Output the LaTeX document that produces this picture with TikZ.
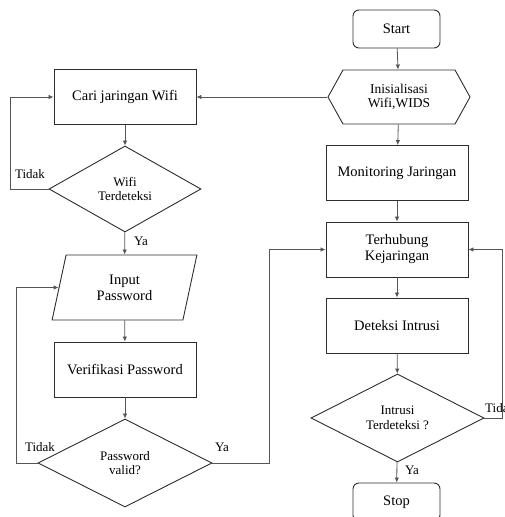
\documentclass[tikz,border=0pt]{standalone}
\usepackage{fontspec}
\setmainfont{Liberation Serif}
\usepackage{tikz}
\usetikzlibrary{shapes.geometric,shapes.symbols,arrows.meta}

\begin{document}
\begin{tikzpicture}[x=1pt, y=-1pt,
    box/.style={draw=shapeline, line width=0.9pt, minimum width=142, minimum height=55, align=center, inner sep=1pt, font=\fontsize{14.5}{16}\selectfont},
    term/.style={box, rounded corners=6pt, minimum width=87, minimum height=38},
    cond/.style={diamond, draw=shapeline, line width=0.9pt, align=center, inner sep=0pt, font=\fontsize{13}{14.5}\selectfont},
    io/.style={trapezium, trapezium left angle=76, trapezium right angle=104, trapezium stretches=true, draw=shapeline, line width=0.9pt, minimum width=145, minimum height=65, align=center, inner sep=1pt, font=\fontsize{14.5}{16}\selectfont},
    prep/.style={signal, signal to=east and west, signal pointer angle=122, draw=shapeline, line width=0.9pt, minimum width=142, minimum height=54, align=center, inner sep=1pt, font=\fontsize{13.5}{14.5}\selectfont},
    arr/.style={draw=connline, line width=0.8pt, -{Latex[length=5pt,width=4.5pt]}},
    lbl/.style={font=\fontsize{13}{14}\selectfont, inner sep=0pt}]
        % Define colors
        \definecolor{shapeline}{RGB}{45,45,45}
        \definecolor{connline}{RGB}{85,85,85}

        \useasboundingbox (0,0) rectangle (504,517);

        % Right column - main flow
        \node[term] (start) at (396.5,29) {Start};
        \node[prep] (init) at (399,97) {Inisialisasi\\Wifi,WIDS};
        \node[box] (monitor) at (397,173) {Monitoring Jaringan};
        \node[box] (terhub) at (397,249.5) {Terhubung\\Kejaringan};
        \node[box] (deteksi) at (397,325.5) {Deteksi Intrusi};
        \node[cond, minimum width=173, minimum height=88] (intrusi) at (397.5,418) {Intrusi\\Terdeteksi ?};
        \node[term] (stop) at (396.5,502) {Stop};

        % Left column - wifi connection
        \node[box] (cari) at (125,97) {Cari jaringan Wifi};
        \node[cond, minimum width=152, minimum height=86] (wifi) at (125,189) {Wifi\\Terdeteksi};
        \node[io] (input) at (124.5,287.5) {Input\\Password};
        \node[box] (verif) at (125,369.5) {Verifikasi Password};
        \node[cond, minimum width=174, minimum height=88] (valid) at (125,463) {Password\\valid?};

        % Arrows - right column
        \draw[arr] (start) -- (init);
        \draw[arr] (init) -- (monitor);
        \draw[arr] (monitor) -- (terhub);
        \draw[arr] (terhub) -- (deteksi);
        \draw[arr] (deteksi) -- (intrusi);
        \draw[arr] (intrusi) -- (stop);
        \draw[arr] (init.west) -- (cari.east);

        % Arrows - left column
        \draw[arr] (cari) -- (wifi);
        \draw[arr] (wifi) -- (input);
        \draw[arr] (input) -- (verif);
        \draw[arr] (verif) -- (valid);

        % Loops back
        \draw[arr] (wifi.west) -- ++(-38,0) |- (cari.west);
        \draw[arr] (valid.west) -- ++(-21,0) |- (input.west);
        \draw[arr] (valid.east) -- ++(57,0) |- (terhub.west);
        \draw[arr] (intrusi.east) -- ++(18,0) |- (terhub.east);

        % Labels
        \node[lbl] (tidak1) at (30,174) {Tidak};
        \node[lbl] (ya1) at (141,241) {Ya};
        \node[lbl] (tidak2) at (40,447) {Tidak};
        \node[lbl] (ya2) at (222,447) {Ya};
        \node[lbl, anchor=west] (tidak3) at (485,408) {Tidak};
        \node[lbl] (ya3) at (412,470) {Ya};
    \end{tikzpicture}
\end{document}
